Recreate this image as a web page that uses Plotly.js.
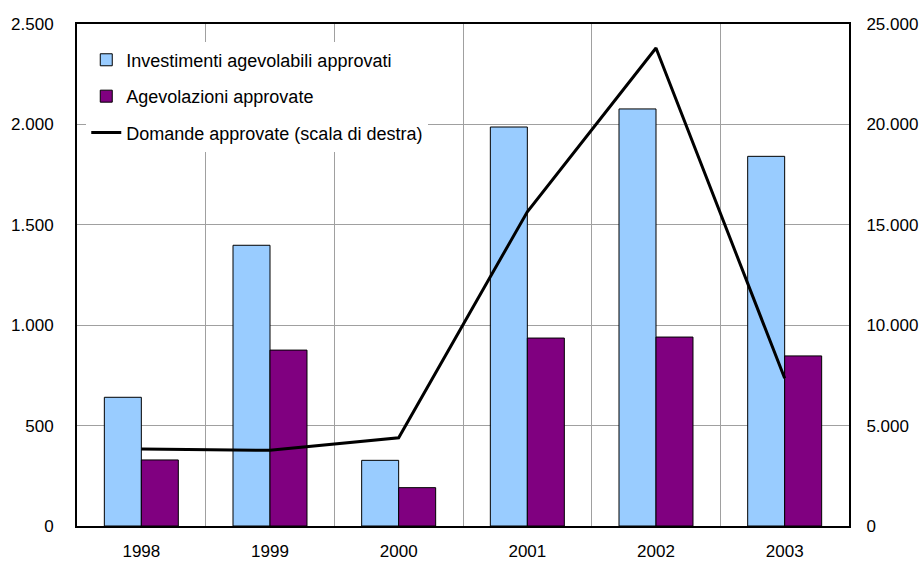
<!DOCTYPE html>
<html>
<head>
<meta charset="utf-8">
<script src="https://cdn.plot.ly/plotly-3.0.1.min.js"></script>
<style>html,body{margin:0;padding:0;background:#fff;}#chart{width:920px;height:561px;}</style>
</head>
<body>
<div id="chart"></div>
<script>
const years = ["1998", "1999", "2000", "2001", "2002", "2003"];
const investimenti = [641, 1398, 327, 1987, 2077, 1841];
const agevolazioni = [329, 876, 191, 936, 941, 847];
const domande = [3835, 3770, 4397, 15650, 23805, 7355];

const names = ["Investimenti agevolabili approvati", "Agevolazioni approvate", "Domande approvate (scala di destra)"];

const traces = [
  {type: "bar", x: years, y: investimenti, name: names[0], legendgroup: "a",
   marker: {color: "#99CCFF", line: {color: "#000", width: 1}}},
  {type: "bar", x: years, y: agevolazioni, name: names[1], legendgroup: "b",
   marker: {color: "#800080", line: {color: "#000", width: 1}}},
  {type: "scatter", mode: "lines", x: years, y: domande, name: names[2], legendgroup: "c",
   yaxis: "y2", line: {color: "#000", width: 3}}
];

const font = {family: "Liberation Sans, Arial, sans-serif", size: 17, color: "#000"};
const legendFont = {family: "Liberation Sans, Arial, sans-serif", size: 18, color: "#000"};

const layout = {
  width: 920, height: 561,
  margin: {l: 77, r: 71, t: 24, b: 35, pad: 0},
  paper_bgcolor: "#fff", plot_bgcolor: "#fff",
  font: font,
  separators: ",.",
  barmode: "group", bargap: 0.425, bargroupgap: 0,
  showlegend: true,
  legend: {x: 0.012, y: 0.965, xanchor: "left", yanchor: "top", bgcolor: "#fff",
           traceorder: "grouped", tracegroupgap: 10, font: legendFont},
  xaxis: {type: "category", tickson: "boundaries", showgrid: true, gridcolor: "#a0a0a0", gridwidth: 1,
          ticks: "", showline: true, linecolor: "#000", linewidth: 2, mirror: true,
          ticklabelstandoff: 9, tickfont: font, zeroline: false},
  yaxis: {range: [0, 2500], dtick: 500, tickformat: ",d", showgrid: true, gridcolor: "#a0a0a0", gridwidth: 1,
          ticks: "", showline: true, linecolor: "#000", linewidth: 2, ticklabelstandoff: 18,
          tickfont: font, zeroline: false},
  yaxis2: {range: [0, 25000], dtick: 5000, tickformat: ",d", overlaying: "y", side: "right",
           showgrid: false, ticks: "", showline: true, linecolor: "#000", linewidth: 2,
           ticklabelstandoff: 12, tickfont: font, zeroline: false}
};

Plotly.newPlot("chart", traces, layout, {staticPlot: true, displayModeBar: false});
</script>
</body>
</html>
